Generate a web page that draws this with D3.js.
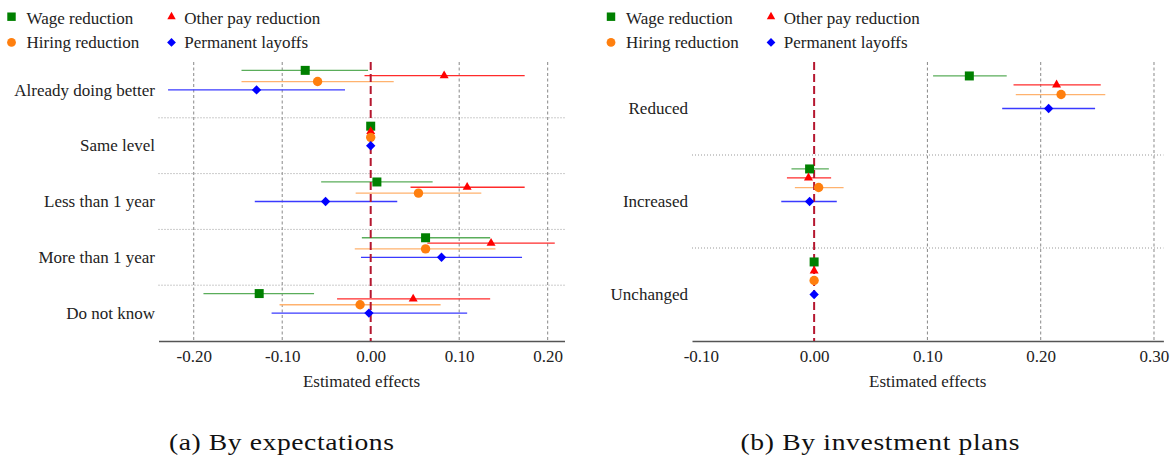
<!DOCTYPE html>
<html><head><meta charset="utf-8">
<script src="https://cdn.jsdelivr.net/npm/d3@7"></script>
<style>
html,body{margin:0;padding:0;background:#fff}
svg text{font-family:"Liberation Serif","Times New Roman",Tinos,Times,"DejaVu Serif",serif;}
</style>
</head><body><svg id="chart" width="1175" height="460"></svg>
<script>
// ---------------- DATA ----------------
const seriesNames = ["Wage reduction", "Other pay reduction", "Hiring reduction", "Permanent layoffs"];

// Panel (a): by expectations
const categoriesA = ["Already doing better", "Same level", "Less than 1 year", "More than 1 year", "Do not know"];
const wageA     = [-0.074, 0,  0.007,  0.062, -0.126];
const wageLoA   = [-0.146, 0, -0.056, -0.010, -0.189];
const wageHiA   = [-0.003, 0,  0.070,  0.135, -0.064];
const otherA    = [ 0.083, 0,  0.109,  0.136,  0.048];
const otherLoA  = [-0.007, 0,  0.045,  0.064, -0.038];
const otherHiA  = [ 0.174, 0,  0.174,  0.208,  0.135];
const hiringA   = [-0.060, 0,  0.054,  0.062, -0.012];
const hiringLoA = [-0.146, 0, -0.017, -0.018, -0.103];
const hiringHiA = [ 0.026, 0,  0.125,  0.141,  0.079];
const layoffA   = [-0.129, 0, -0.051,  0.080, -0.002];
const layoffLoA = [-0.229, 0, -0.131, -0.011, -0.112];
const layoffHiA = [-0.029, 0,  0.030,  0.171,  0.109];
const ticksA = [-0.2, -0.1, 0, 0.1, 0.2];
const gridA  = [-0.2, -0.1, 0.1, 0.2];
const captionA = "(a) By expectations";

// Panel (b): by investment plans
const categoriesB = ["Reduced", "Increased", "Unchanged"];
const wageB     = [0.137, -0.004, 0];
const wageLoB   = [0.105, -0.020, 0];
const wageHiB   = [0.170,  0.013, 0];
const otherB    = [0.214, -0.005, 0];
const otherLoB  = [0.176, -0.024, 0];
const otherHiB  = [0.253,  0.015, 0];
const hiringB   = [0.218,  0.004, 0];
const hiringLoB = [0.178, -0.017, 0];
const hiringHiB = [0.257,  0.026, 0];
const layoffB   = [0.207, -0.004, 0];
const layoffLoB = [0.166, -0.029, 0];
const layoffHiB = [0.248,  0.020, 0];
const ticksB = [-0.1, 0, 0.1, 0.2, 0.3];
const gridB  = [0.1, 0.2, 0.3];
const captionB = "(b) By investment plans";

const axisTitle = "Estimated effects";

// ---------------- STYLE ----------------
const styles = [
  {type: "square",   fill: "#008000", line: "#5aad5a", off: -0.35},
  {type: "triangle", fill: "#ff0000", line: "#ff2b2b", off: -0.255},
  {type: "circle",   fill: "#ff7f0e", line: "#ffb26e", off: -0.15},
  {type: "diamond",  fill: "#0000ff", line: "#3a3aff", off: 0}
];
function symPath(type, k) {
  k = k || 1;
  if (type === "square")   return d3.symbol().type(d3.symbolSquare).size(81 * k)();
  if (type === "triangle") return d3.symbol().type(d3.symbolTriangle).size(35 * k)();
  if (type === "circle")   return d3.symbol().type(d3.symbolCircle).size(69 * k)();
  return d3.symbol().type(d3.symbolSquare).size(44 * k)();
}

const svg = d3.select("#chart");

function buildSeries(est, lo, hi) {
  return est.map((e, i) => ({est: e, lo: lo[i], hi: hi[i]}));
}

const panels = [
  {
    cats: categoriesA,
    series: [buildSeries(wageA, wageLoA, wageHiA), buildSeries(otherA, otherLoA, otherHiA),
             buildSeries(hiringA, hiringLoA, hiringHiA), buildSeries(layoffA, layoffLoA, layoffHiA)],
    domain: [-0.2398, 0.2190], range: [158.5, 564.5],
    ticks: ticksA, grid: gridA, caption: captionA, capX: 281.5, capLen: 225,
    labelX: 155, legendX: 0
  },
  {
    cats: categoriesB,
    series: [buildSeries(wageB, wageLoB, wageHiB), buildSeries(otherB, otherLoB, otherHiB),
             buildSeries(hiringB, hiringLoB, hiringHiB), buildSeries(layoffB, layoffLoB, layoffHiB)],
    domain: [-0.1078, 0.3083], range: [692, 1163.4],
    ticks: ticksB, grid: gridB, caption: captionB, capX: 880, capLen: 279,
    labelX: 688, legendX: 599.5
  }
];

const TOP = 62, BOTTOM = 341;
const CAP_SX = 1.15;

panels.forEach(p => {
  const g = svg.append("g");
  const x = d3.scaleLinear().domain(p.domain).range(p.range);
  const y = d3.scaleBand().domain(p.cats).range([TOP, BOTTOM]).padding(0);
  const bw = y.bandwidth();

  g.selectAll(".grid").data(p.grid).join("line")
    .attr("x1", d => x(d)).attr("x2", d => x(d))
    .attr("y1", TOP).attr("y2", BOTTOM)
    .attr("stroke", "#888").attr("stroke-width", 1).attr("stroke-dasharray", "3,2.5");

  g.selectAll(".sep").data(p.cats.slice(1)).join("line")
    .attr("x1", p.range[0]).attr("x2", p.range[1])
    .attr("y1", d => y(d)).attr("y2", d => y(d))
    .attr("stroke", "#999").attr("stroke-width", 1).attr("stroke-dasharray", "1,2");

  g.selectAll(".cat").data(p.cats).join("text")
    .attr("x", p.labelX).attr("y", d => y(d) + bw / 2).attr("dy", "0.34em")
    .attr("text-anchor", "end").style("font-size", "17px")
    .attr("fill", "#222").text(d => d);

  const ax = g.append("g").attr("transform", `translate(0,${BOTTOM})`)
    .call(d3.axisBottom(x).tickValues(p.ticks).tickSizeInner(0).tickSizeOuter(0).tickPadding(9)
      .tickFormat(d => d.toFixed(2)));
  ax.attr("font-family", null).attr("font-size", null);
  ax.select(".domain").attr("stroke", "#555").attr("stroke-width", 1.5);
  ax.selectAll("text").style("font-size", "17px").attr("fill", "#222");

  g.append("text").attr("x", (p.range[0] + p.range[1]) / 2).attr("y", 387.3)
    .attr("text-anchor", "middle").style("font-size", "17px")
    .attr("fill", "#222").text(axisTitle);

  p.series.forEach((s, si) => {
    const st = styles[si];
    g.selectAll(null).data(s.map((d, i) => ({...d, cat: p.cats[i]})).filter(d => d.hi > d.lo)).join("line")
      .attr("x1", d => x(d.lo)).attr("x2", d => x(d.hi))
      .attr("y1", d => y(d.cat) + bw / 2 + st.off * bw)
      .attr("y2", d => y(d.cat) + bw / 2 + st.off * bw)
      .attr("stroke", st.line).attr("stroke-width", 1.3);
  });

  g.append("line").attr("x1", x(0)).attr("x2", x(0)).attr("y1", TOP).attr("y2", BOTTOM)
    .attr("stroke", "#b5172f").attr("stroke-width", 2).attr("stroke-dasharray", "8,4");

  p.series.forEach((s, si) => {
    const st = styles[si];
    g.selectAll(null).data(s.map((d, i) => ({...d, cat: p.cats[i]}))).join("path")
      .attr("d", symPath(st.type))
      .attr("transform", d => `translate(${x(d.est)},${y(d.cat) + bw / 2 + st.off * bw})` + (st.type === "diamond" ? " rotate(45)" : ""))
      .attr("fill", st.fill);
  });

  const lg = g.append("g").attr("transform", `translate(${p.legendX},0)`);
  const colM = [11.5, 171.5], colT = [26.5, 184.3], rowM = [16.7, 42.4], rowT = [24, 48.3];
  seriesNames.forEach((name, i) => {
    const c = i % 2, r = Math.floor(i / 2), st = styles[i];
    lg.append("path").attr("d", symPath(st.type, 0.88))
      .attr("transform", `translate(${colM[c]},${rowM[r]})` + (st.type === "diamond" ? " rotate(45)" : ""))
      .attr("fill", st.fill);
    lg.append("text").attr("x", colT[c]).attr("y", rowT[r])
      .style("font-size", "17px").attr("fill", "#222").text(name);
  });

  svg.append("g").attr("transform", `scale(${CAP_SX},1)`)
    .append("text").attr("x", p.capX / CAP_SX).attr("y", 450).attr("text-anchor", "middle")
    .style("font-size", "24px").attr("fill", "#111")
    .attr("textLength", p.capLen / CAP_SX).attr("lengthAdjust", "spacing")
    .text(p.caption);
});
</script></body></html>
